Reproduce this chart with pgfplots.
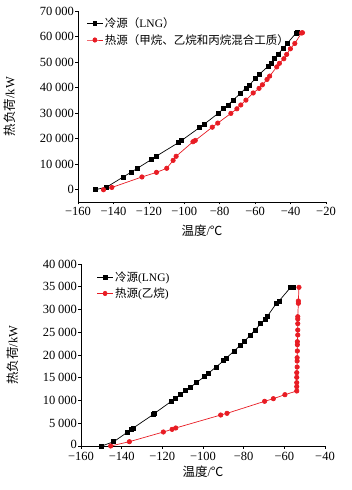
\documentclass[border=0pt]{standalone}
\usepackage{fontspec}
\setmainfont{Liberation Serif}
\newfontfamily\cjk{Noto Sans CJK SC}
\usepackage{pgfplots}
\pgfplotsset{compat=1.18}
\definecolor{mred}{RGB}{232,28,36}
\pgfplotsset{
  common/.style={
    scale only axis,
    scaled y ticks=false, scaled x ticks=false,
    axis x line*=bottom, axis y line*=left,
    axis line style={-, line width=0.7pt},
    tick align=outside, major tick length=2.5pt,
    tick style={line width=0.6pt, black},
    tick label style={font=\fontsize{12.5}{12.5}\selectfont},
    yticklabel style={inner xsep=1.5pt},
    xticklabel style={inner ysep=2pt},
    label style={font=\fontsize{12.5}{12.5}\selectfont},
    legend style={draw=none, fill=none, font=\fontsize{11.5}{12}\selectfont,
      row sep=1pt, inner sep=0pt},
    legend cell align=left,
    legend image post style={xscale=0.9},
  },
  cold/.style={black, line width=0.7pt, mark=square*, mark size=2pt, mark options={solid}},
  hot/.style={mred, line width=0.7pt, mark=*, mark size=2.2pt, mark options={solid}},
}
\begin{document}
\begin{tikzpicture}
\useasboundingbox (0,0) rectangle (351pt,490pt);
% ---------- top ----------
\begin{axis}[common,
  at={(78pt,288pt)}, anchor=south west,
  width=248pt, height=191pt,
  xmin=-160, xmax=-20, ymin=-4800, ymax=70000,
  xtick={-160,-140,-120,-100,-80,-60,-40,-20},
  xticklabels={−160,−140,−120,−100,−80,−60,−40,−20},
  ytick={0,10000,20000,30000,40000,50000,60000,70000},
  yticklabels={0,10\:000,20\:000,30\:000,40\:000,50\:000,60\:000,70\:000},
  xlabel={{\cjk 温度}/{\cjk ℃}},
  ylabel={{\cjk 热负荷}/kW},
  xlabel style={at={(axis description cs:0.5,0)}, anchor=north, yshift=-19pt},
  every axis y label/.append style={at={(-59pt,95.5pt)}},
  legend style={at={(0.035,0.975)}, anchor=north west},
]
\addplot[cold] coordinates {
(-150.4,0) (-143.9,1000) (-134.5,5000) (-129.7,7000) (-126.5,8400)
(-118.4,11900) (-115.9,13100) (-103.2,18500) (-101.5,19300) (-91.3,24400)
(-88.7,25700) (-80.9,29900) (-77.9,31700) (-75.4,33200) (-72.4,35100)
(-68.1,37900) (-65.2,39800) (-63.3,41000) (-59.7,43600) (-57.8,45100)
(-52.4,48500) (-50.8,49500) (-48.9,51300) (-47.1,53000) (-44.2,55400)
(-41.6,57500) (-37.0,61300) (-36.3,61500)
};
\addlegendentry{{\cjk 冷源（}LNG{\cjk ）}}
\addplot[hot] coordinates {
(-145.6,0) (-140.9,900) (-123.9,5000) (-115.7,6800) (-109.9,8400)
(-106.3,11500) (-104.6,13100) (-95.1,18800) (-93.8,19300) (-84.2,24500)
(-81.1,26100) (-73.7,29900) (-70.3,31700) (-68.1,33200) (-65.2,35100)
(-61.1,37900) (-57.8,39700) (-55.9,41100) (-53.3,43200) (-51.8,44500)
(-47.8,48100) (-46.3,49500) (-43.8,51300) (-42.2,53000) (-40.1,55200)
(-37.6,57300) (-33.8,61400) (-33.3,61500)
};
\addlegendentry{{\cjk 热源（甲烷、乙烷和丙烷混合工质）}}
\end{axis}
% ---------- bottom ----------
\begin{axis}[common,
  at={(81pt,44pt)}, anchor=south west,
  width=244pt, height=182pt,
  xmin=-160, xmax=-40, ymin=0, ymax=40000,
  xtick={-160,-140,-120,-100,-80,-60,-40},
  xticklabels={−160,−140,−120,−100,−80,−60,−40},
  xticklabel style={inner ysep=3.5pt},
  ytick={0,5000,10000,15000,20000,25000,30000,35000,40000},
  yticklabels={\raisebox{3pt}{0},5\:000,10\:000,15\:000,20\:000,25\:000,30\:000,35\:000,40\:000},
  xlabel={{\cjk 温度}/{\cjk ℃}},
  ylabel={{\cjk 热负荷}/kW},
  xlabel style={at={(axis description cs:0.5,0)}, anchor=north, yshift=-16pt},
  every axis y label/.append style={at={(-59pt,91pt)}},
  legend style={at={(0.065,0.97)}, anchor=north west},
]
\addplot[cold] coordinates {
(-149.8,0) (-143.9,950) (-137.0,3080) (-135.1,3660) (-134.3,3960)
(-124.6,6890) (-123.8,7180) (-115.6,9820) (-113.6,10480) (-111.1,11280)
(-108.5,12160) (-106.2,12890) (-103.3,13920) (-99.3,15240) (-97.2,16040)
(-93.6,17360) (-89.8,18750) (-88.4,19340) (-84.8,20880) (-81.6,22120)
(-79.8,22930) (-76.7,24400) (-74.4,25490) (-71.6,26890) (-69.5,27910)
(-68.5,28420) (-63.9,31360) (-62.6,31870) (-56.9,34870) (-55.6,34870)
};
\addlegendentry{{\cjk 冷源}(LNG)}
\addplot[hot] coordinates {
(-145.4,0) (-136.2,950) (-119.5,3080) (-115.2,3660) (-113.4,3960)
(-91.3,6810) (-88.2,7180) (-69.7,9820) (-65.4,10400) (-59.7,11280)
(-53.9,12090) (-53.9,13040) (-53.9,13920) (-53.9,15090) (-53.9,16120)
(-53.7,17360) (-53.7,18680) (-53.7,19410) (-53.6,20880) (-53.6,22270)
(-53.6,22930) (-53.4,24400) (-53.4,25490) (-53.4,26890) (-53.4,27910)
(-53.4,28420) (-53.1,31360) (-53.1,31870) (-52.8,34870)
};
\addlegendentry{{\cjk 热源}({\cjk 乙烷})}
\end{axis}
\end{tikzpicture}
\end{document}
